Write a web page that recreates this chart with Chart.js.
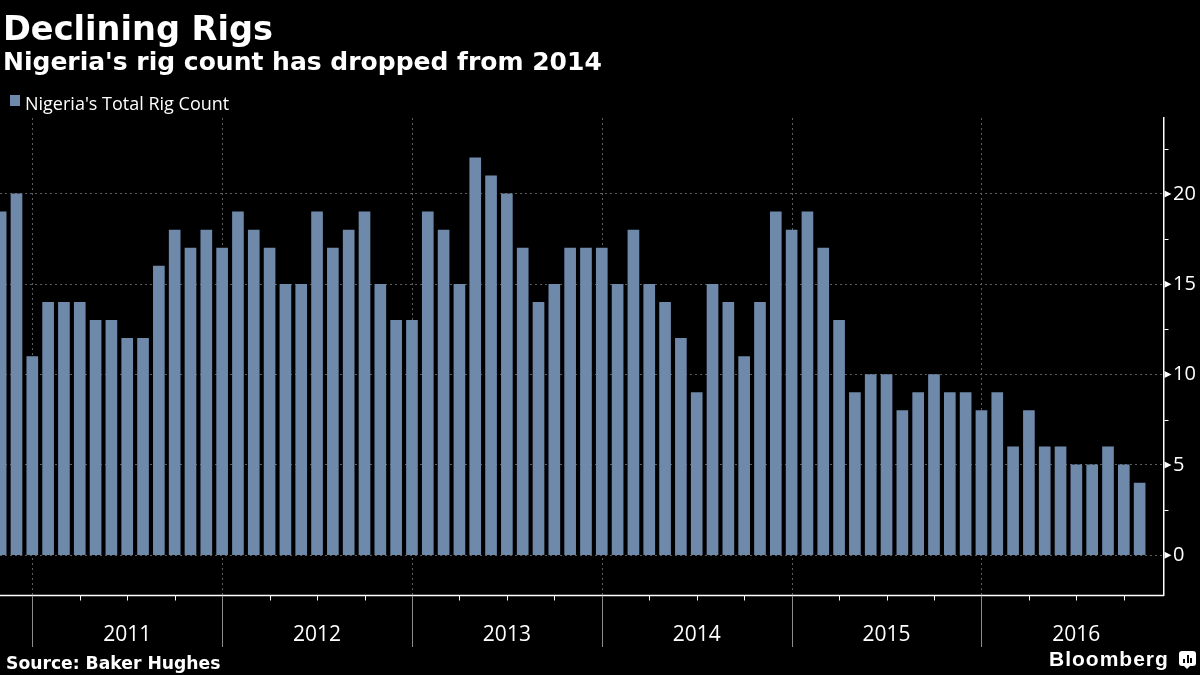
<!DOCTYPE html>
<html>
<head>
<meta charset="utf-8">
<script src="https://cdn.jsdelivr.net/npm/chart.js@4.4.1/dist/chart.umd.min.js"></script>
<style>
  html, body { margin: 0; padding: 0; background: #000; }
  #wrap { position: relative; width: 1200px; height: 675px; background: #000; overflow: hidden; }
  #chart { position: absolute; left: 0; top: 0; }
  .t { position: absolute; color: #fff; white-space: nowrap; line-height: 1; }
  #title { left: 3px; top: 8.6px; font: bold 33.6px "DejaVu Sans"; }
  #subtitle { left: 3px; top: 47px; font: bold 25px "DejaVu Sans"; }
  #legend { left: 25px; top: 90.7px; font: 18px "Open Sans"; }
  #sw { position: absolute; left: 9.5px; top: 95px; width: 10.5px; height: 10.5px; background: #6f89ab; }
  #source { left: 6px; top: 652.6px; font: bold 17.2px "DejaVu Sans"; }
  #brand { left: 1049px; top: 646.5px; font: bold 21px "Liberation Sans"; letter-spacing: 1px; }
  #icon { position: absolute; left: 1179px; top: 651px; width: 17px; height: 15px; background: #fff; border-radius: 3px; }
  #icon b { position: absolute; left: 5px; bottom: -3px; width: 0; height: 0; border-left: 3px solid transparent; border-right: 3px solid transparent; border-top: 3px solid #fff; }
  #icon i { position: absolute; bottom: 3px; width: 2px; background: #000; }
</style>
</head>
<body>
<div id="wrap">
  <canvas id="chart" width="1200" height="675"></canvas>
  <div class="t" id="title">Declining Rigs</div>
  <div class="t" id="subtitle">Nigeria's rig count has dropped from 2014</div>
  <div id="sw"></div>
  <div class="t" id="legend">Nigeria's Total Rig Count</div>
  <div class="t" id="source">Source: Baker Hughes</div>
  <div class="t" id="brand">Bloomberg</div>
  <div id="icon"><b></b><i style="left:4px;height:4px"></i><i style="left:7.5px;height:8px"></i><i style="left:11px;height:5px"></i></div>
</div>
<script>
// ---- data ----
const months = [
  '2010-11','2010-12',
  '2011-01','2011-02','2011-03','2011-04','2011-05','2011-06','2011-07','2011-08','2011-09','2011-10','2011-11','2011-12',
  '2012-01','2012-02','2012-03','2012-04','2012-05','2012-06','2012-07','2012-08','2012-09','2012-10','2012-11','2012-12',
  '2013-01','2013-02','2013-03','2013-04','2013-05','2013-06','2013-07','2013-08','2013-09','2013-10','2013-11','2013-12',
  '2014-01','2014-02','2014-03','2014-04','2014-05','2014-06','2014-07','2014-08','2014-09','2014-10','2014-11','2014-12',
  '2015-01','2015-02','2015-03','2015-04','2015-05','2015-06','2015-07','2015-08','2015-09','2015-10','2015-11','2015-12',
  '2016-01','2016-02','2016-03','2016-04','2016-05','2016-06','2016-07','2016-08','2016-09','2016-10','2016-11'
];
const rigCount = [
  19,20,
  11,14,14,14,13,13,12,12,16,18,17,18,
  17,19,18,17,15,15,19,17,18,19,15,13,
  13,19,18,15,22,21,20,17,14,15,17,17,
  17,15,18,15,14,12,9,15,14,11,14,19,
  18,19,17,13,9,10,10,8,9,10,9,9,
  8,9,6,8,6,6,5,5,6,5,4
];
const yearLabels = ['2011','2012','2013','2014','2015','2016'];
const yTicks = [0,5,10,15,20];
const yMinorTicks = [2.5,7.5,12.5,17.5,22.5];
const seriesName = "Nigeria's Total Rig Count";

// month index relative to Jan of first labelled year
const baseYear = Number(yearLabels[0]);
function monthIndex(s) { const [y, m] = s.split('-').map(Number); return (y - baseYear) * 12 + (m - 1); }
const points = months.map((m, i) => ({ x: monthIndex(m), y: rigCount[i] }));

const BAR = '#6f89ab';
const GRID = '#5e5e5e';

const decor = {
  id: 'decor',
  beforeDatasetsDraw(chart) {
    const { ctx, chartArea: a, scales: { x } } = chart;
    ctx.save();
    ctx.strokeStyle = GRID; ctx.lineWidth = 1; ctx.setLineDash([2, 3]);
    yearLabels.forEach((yl, i) => {
      const px = Math.round(x.getPixelForValue(i * 12)) + 0.5;
      ctx.beginPath(); ctx.moveTo(px, a.top); ctx.lineTo(px, a.bottom); ctx.stroke();
    });
    ctx.restore();
  },
  afterDraw(chart) {
    const { ctx, chartArea: a, scales: { x, y } } = chart;
    ctx.save();
    const by = Math.round(a.bottom) + 0.5;
    // x axis line
    ctx.strokeStyle = '#fff'; ctx.lineWidth = 1.5;
    ctx.beginPath(); ctx.moveTo(0, by); ctx.lineTo(a.right, by); ctx.stroke();
    // quarter ticks
    ctx.lineWidth = 1;
    for (let q = 0; q <= 71; q += 3) {
      if (q % 12 === 0) continue;
      const px = Math.round(x.getPixelForValue(q)) + 0.5;
      if (px > a.right) break;
      ctx.beginPath(); ctx.moveTo(px, by); ctx.lineTo(px, by + 5); ctx.stroke();
    }
    // year separators and labels
    ctx.font = '21px "Open Sans"';
    ctx.textAlign = 'center'; ctx.textBaseline = 'middle';
    yearLabels.forEach((yl, i) => {
      const p0 = x.getPixelForValue(i * 12);
      const p1 = x.getPixelForValue((i + 1) * 12);
      const px = Math.round(p0) + 0.5;
      ctx.strokeStyle = '#8c8c8c';
      ctx.beginPath(); ctx.moveTo(px, by); ctx.lineTo(px, 647); ctx.stroke();
      ctx.fillStyle = '#fff';
      ctx.fillText(yl, (p0 + p1) / 2, 635);
    });
    // y axis minor ticks and arrow ticks
    const ax = Math.round(a.right) + 0.5;
    ctx.strokeStyle = '#fff'; ctx.fillStyle = '#fff';
    yMinorTicks.forEach(v => {
      const py = Math.round(y.getPixelForValue(v)) + 0.5;
      ctx.beginPath(); ctx.moveTo(ax, py); ctx.lineTo(ax + 4, py); ctx.stroke();
    });
    yTicks.forEach(v => {
      const py = y.getPixelForValue(v);
      ctx.beginPath(); ctx.moveTo(ax, py - 3.5); ctx.lineTo(ax + 7, py); ctx.lineTo(ax, py + 3.5); ctx.closePath(); ctx.fill();
    });
    ctx.restore();
  }
};

new Chart(document.getElementById('chart'), {
  type: 'bar',
  data: {
    datasets: [{
      label: seriesName,
      data: points,
      backgroundColor: BAR,
      borderWidth: 0,
      barThickness: 11
    }]
  },
  options: {
    responsive: false,
    animation: false,
    layout: { padding: { top: 118, bottom: 80, left: 0, right: 0 } },
    plugins: { legend: { display: false }, title: { display: false }, tooltip: { enabled: false } },
    scales: {
      x: { type: 'linear', display: false, offset: false, bounds: 'ticks', min: -2.042, max: 71.54, grace: 0 },
      y: {
        position: 'right',
        min: -2.2, max: 24.2,
        afterBuildTicks: s => { s.ticks = yTicks.map(v => ({ value: v })); },
        afterFit: s => { s.width = 36; },
        grid: { color: GRID, lineWidth: 1, drawTicks: false },
        border: { display: true, color: '#fff', width: 1.5, dash: [2, 3] },
        ticks: { color: '#fff', padding: 9, font: { family: 'Open Sans', size: 20 } }
      }
    }
  },
  plugins: [decor]
});
</script>
</body>
</html>
